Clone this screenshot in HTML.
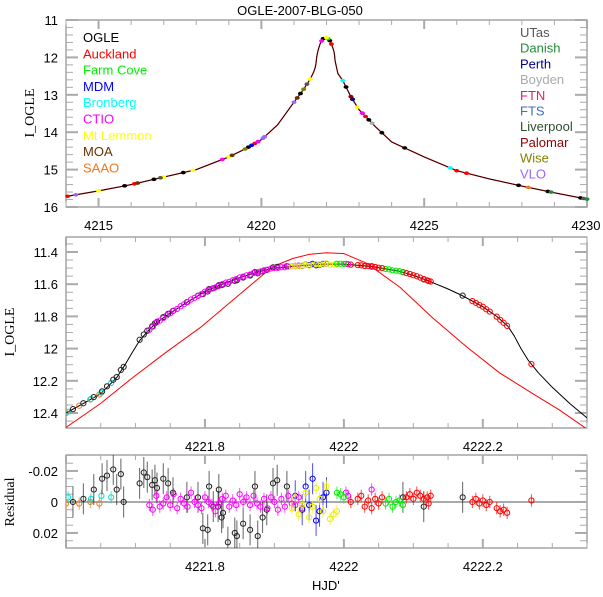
<!DOCTYPE html>
<html><head><meta charset="utf-8"><style>
body{margin:0;background:#fff}
svg text{font-family:"Liberation Sans",sans-serif;font-size:13px;fill:#000}
.ser{font-family:"Liberation Serif",serif;font-size:14px}
</style></head><body>
<svg id="c" width="603" height="592" viewBox="0 0 603 592" xmlns="http://www.w3.org/2000/svg">
<text x="300" y="15" text-anchor="middle">OGLE-2007-BLG-050</text>
<text x="312" y="590">HJD'</text>
<text class="ser" transform="translate(34,113) rotate(-90)" text-anchor="middle">I_OGLE</text>
<text class="ser" transform="translate(14,332) rotate(-90)" text-anchor="middle">I_OGLE</text>
<text class="ser" transform="translate(14,502) rotate(-90)" text-anchor="middle">Residual</text>
<g id="g"></g>
</svg>
<script>
// ---------- data ----------
const legendLeft=["OGLE","Auckland","Farm Cove","MDM","Bronberg","CTIO","Mt Lemmon","MOA","SAAO"];
const legendRight=["UTas","Danish","Perth","Boyden","FTN","FTS","Liverpool","Palomar","Wise","VLO"];
const colorsLeft=["#000","#ff0000","#00ee00","#0000ff","#00ffff","#ff00ff","#ffff00","#663300","#ee7722"];
const colorsRight=["#555","#228b3a","#00008b","#aaaaaa","#e0206a","#3b6fc4","#2f4f2f","#8b0000","#808000","#9966ff"];
// top panel model (binary)
const topModelT=[4214,4215,4216,4217,4218,4219,4219.5,4220,4220.5,4221,4221.3,4221.5,4221.6,4221.65,4221.673,4221.696,4221.716,4221.75,4221.803,4221.85,4221.898,4221.937,4222.0,4222.04,4222.08,4222.125,4222.17,4222.2,4222.236,4222.25,4222.265,4222.3,4222.35,4222.5,4222.75,4223,4223.5,4224,4225,4226,4227,4228,4229,4230];
const topModelM=[15.72,15.57,15.4,15.2,15.0,14.66,14.45,14.2,13.8,13.2,12.85,12.58,12.4,12.28,12.18,12.02,11.9,11.78,11.64,11.56,11.5,11.48,11.47,11.49,11.525,11.585,11.69,11.76,11.87,11.95,12.09,12.24,12.43,12.62,13.05,13.4,13.85,14.26,14.66,15.03,15.25,15.44,15.62,15.79];
// middle panel: binary model (black) and single-lens model (red)
const midModelT=[4221.6,4221.625,4221.65,4221.673,4221.685,4221.696,4221.706,4221.716,4221.73,4221.75,4221.775,4221.803,4221.825,4221.85,4221.875,4221.898,4221.937,4221.97,4222.0,4222.04,4222.08,4222.1,4222.125,4222.15,4222.17,4222.2,4222.22,4222.236,4222.245,4222.255,4222.265,4222.28,4222.3,4222.325,4222.35];
const midModelM=[12.4,12.34,12.28,12.18,12.1,12.02,11.95,11.9,11.84,11.78,11.71,11.64,11.6,11.56,11.525,11.5,11.485,11.475,11.475,11.49,11.52,11.545,11.585,11.63,11.67,11.74,11.8,11.86,11.92,12.0,12.07,12.15,12.24,12.34,12.43];
const redModelT=[4221.6,4221.65,4221.696,4221.745,4221.793,4221.84,4221.87,4221.898,4221.927,4221.95,4221.975,4222.0,4222.033,4222.081,4222.128,4222.177,4222.224,4222.272,4222.31,4222.35];
const redModelM=[12.49,12.34,12.18,12.02,11.87,11.7,11.59,11.49,11.44,11.415,11.405,11.41,11.47,11.62,11.81,11.99,12.15,12.28,12.38,12.5];
// residual data per telescope (time, residual)
const ogleT=[4221.61,4221.625,4221.64,4221.652,4221.659,4221.668,4221.673,4221.679,4221.683,4221.706,4221.712,4221.717,4221.724,4221.728,4221.731,4221.74,4221.747,4221.754,4221.774,4221.79,4221.797,4221.804,4221.806,4221.812,4221.819,4221.82,4221.824,4221.826,4221.833,4221.843,4221.846,4221.855,4221.865,4221.872,4221.876,4221.883,4221.889,4221.898,4221.904,4221.918,4222.085,4222.115,4222.171];
const ogleR=[0,-0.002,-0.008,-0.015,-0.017,-0.021,-0.008,-0.018,0,-0.012,-0.019,-0.016,-0.011,-0.014,-0.009,-0.015,-0.012,-0.006,-0.003,-0.003,0.017,0.018,-0.01,0.003,0.003,-0.008,0.01,0.007,0.026,0.02,0.022,0.014,0.018,-0.01,0.022,0.01,0.005,-0.012,-0.014,-0.01,-0.003,0.003,-0.003];
const ctioT=[4221.72,4221.725,4221.73,4221.735,4221.74,4221.745,4221.75,4221.755,4221.76,4221.765,4221.77,4221.775,4221.78,4221.785,4221.79,4221.795,4221.8,4221.805,4221.81,4221.815,4221.82,4221.825,4221.83,4221.835,4221.84,4221.845,4221.85,4221.855,4221.86,4221.865,4221.87,4221.875,4221.88,4221.885,4221.89,4221.895,4221.9,4221.905,4221.91,4221.915,4221.92,4221.925,4221.93,4221.935,4221.94,4222.003,4222.006,4222.04];
const ctioR=[0.002,0.005,-0.004,0.003,0.001,-0.003,0.002,-0.005,0.004,-0.002,0.001,0.003,-0.006,0.0,0.002,0.004,-0.003,0.0,0.002,0.006,0.001,-0.002,-0.004,0.003,-0.001,0.002,-0.005,0.0,-0.003,0.002,-0.004,0.001,0.003,-0.002,0.004,-0.003,0.0,0.005,-0.002,0.003,-0.004,0.001,0.002,-0.003,0.004,-0.006,-0.004,-0.008];
const lemmonT=[4221.925,4221.93,4221.935,4221.94,4221.945,4221.95,4221.955,4221.96,4221.965,4221.97,4221.975,4221.98,4221.985,4221.99];
const lemmonR=[0.004,-0.003,0.008,0.002,-0.006,0.01,0.003,-0.009,-0.002,0.006,-0.01,0.011,0.008,0.006];
const mdmT=[4221.93,4221.94,4221.945,4221.95,4221.955,4221.96,4221.965,4221.97,4221.975];
const mdmR=[-0.004,0.005,-0.01,0.002,-0.015,0.012,0.006,-0.003,-0.006];
const farmT=[4221.99,4221.995,4222.0,4222.06,4222.065,4222.07,4222.075,4222.08,4222.085];
const farmR=[-0.006,-0.005,-0.003,0.001,-0.002,0.003,0.0,-0.001,0.002];
const auckT=[4222.01,4222.02,4222.025,4222.03,4222.035,4222.04,4222.045,4222.05,4222.055,4222.09,4222.095,4222.1,4222.105,4222.11,4222.115,4222.12,4222.122,4222.125,4222.185,4222.19,4222.195,4222.2,4222.205,4222.21,4222.22,4222.225,4222.23,4222.235,4222.27];
const auckR=[0.0,-0.002,-0.004,0.003,-0.001,0.004,-0.002,0.001,-0.003,-0.003,-0.005,-0.002,-0.006,-0.004,-0.002,-0.003,0.001,-0.004,0.0,-0.002,0.001,-0.001,0.002,0.0,0.004,0.006,0.005,0.007,-0.001];
const bronT=[4221.603,4221.636,4221.651,4221.665];
const bronR=[-0.003,-0.002,-0.004,-0.003];
const saaoT=[4221.6,4221.619,4221.635,4221.648];
const saaoR=[0.001,0.001,0.0,0.001];
// top panel observation times per telescope (dots on curve)
const topObs={
 OGLE:[4215.8,4216.7,4217.6,4219.6,4221.2,4221.9,4222.1,4222.6,4223.3,4223.7,4224.4,4227.9,4228.8,4229.8],
 Auckland:[4214.05,4216.1,4219.8,4222.15,4223.2,4226.0,4226.3],
 "Farm Cove":[4222.05],
 MDM:[4219.7,4223.1],
 Bronberg:[4222.5,4225.8],
 CTIO:[4218.8,4219.9,4221.85,4223.1],
 "Mt Lemmon":[4215.0,4217.0,4217.9,4219.0,4221.5,4222.0,4222.95],
 MOA:[4216.2,4219.1,4221.1,4222.8],
 SAAO:[4228.2],
 UTas:[4216.9,4221.4,4229.9],
 Danish:[4228.9,4230],
 Perth:[4222.8],
 Boyden:[4223.4],
 Palomar:[4222.75],
 Wise:[4219.5,4221.3],
 VLO:[4214.3,4220.05,4220.1,4221.0]
};
// ---------- drawing ----------
const G=document.getElementById('g');const NS="http://www.w3.org/2000/svg";
function mk(tag,at,parent){const e=document.createElementNS(NS,tag);for(const k in at)e.setAttribute(k,at[k]);(parent||G).appendChild(e);return e;}
function interp(T,M,t){for(let i=0;i<T.length-1;i++){if(t<=T[i+1]){const f=(t-T[i])/(T[i+1]-T[i]);return M[i]+f*(M[i+1]-M[i]);}}return M[M.length-1];}
const L=66,R=587;
const P1={x0:4214,x1:4230,y0:11,y1:16,top:20,bot:207};
const P2={x0:4221.6,x1:4222.35,y0:11.307,y1:12.493,top:237,bot:428};
const P3={x0:4221.6,x1:4222.35,y0:-0.0303,y1:0.0297,top:455,bot:548};
const sx=(p,t)=>L+(t-p.x0)/(p.x1-p.x0)*(R-L);
const sy=(p,v)=>p.top+(v-p.y0)/(p.y1-p.y0)*(p.bot-p.top);
function frame(p,name,xMaj,xMin,yMaj,yMin,yLab,xLab,xfmt){
 const g=mk('g',{});
 mk('rect',{x:L,y:p.top,width:R-L,height:p.bot-p.top,fill:'none',stroke:'#777','stroke-width':1},g);
 for(let t=Math.ceil(p.x0/xMin-1e-6)*xMin;t<=p.x1+1e-9;t+=xMin){const x=sx(p,t);const maj=Math.abs(t/xMaj-Math.round(t/xMaj))<1e-6;const l=maj?9:5;
  mk('line',{x1:x,x2:x,y1:p.bot,y2:p.bot-l,stroke:'#aaa','stroke-width':maj?2:1},g);mk('line',{x1:x,x2:x,y1:p.top,y2:p.top+l,stroke:'#aaa','stroke-width':maj?2:1},g);}
 for(let v=Math.ceil(p.y0/yMin-1e-6)*yMin;v<=p.y1+1e-9;v+=yMin){const y=sy(p,v);const maj=Math.abs(v/yMaj-Math.round(v/yMaj))<1e-6;const l=maj?12:7;
  mk('line',{x1:L,x2:L+l,y1:y,y2:y,stroke:'#aaa','stroke-width':maj?2:1},g);mk('line',{x1:R,x2:R-l,y1:y,y2:y,stroke:'#aaa','stroke-width':maj?2:1},g);}
 yLab.forEach(v=>{const t=mk('text',{x:58,y:sy(p,v)+5,'text-anchor':'end'},g);t.textContent=String(v);});
 xLab.forEach(v=>{const x=Math.min(sx(p,v),586);const t=mk('text',{x:x,y:p.bot+23,'text-anchor':'middle'},g);t.textContent=xfmt(v);});
}
frame(P1,'top-panel',5,1,1,0.2,[11,12,13,14,15,16],[4215,4220,4225,4230],v=>String(v));
frame(P2,'middle-panel',0.2,0.05,0.2,0.05,[11.4,11.6,11.8,12,12.2,12.4],[4221.8,4222,4222.2],v=>String(+v.toFixed(1)));
frame(P3,'residual-panel',0.2,0.05,0.02,0.005,[-0.02,0,0.02],[4221.8,4222,4222.2],v=>String(+v.toFixed(1)));
function poly(p,T,M,col,w,name,clip){let d='';T.forEach((t,i)=>{d+=(i?'L':'M')+sx(p,t).toFixed(1)+','+sy(p,M[i]).toFixed(1);});const at={d:d,fill:'none',stroke:col,'stroke-width':w,'stroke-linejoin':'round'};if(clip)at['clip-path']=clip;const e=mk('path',at);}
const clipM=mk('clipPath',{id:'cm'});mk('rect',{x:L,y:P2.top,width:R-L,height:P2.bot-P2.top},clipM);
const clipR=mk('clipPath',{id:'cr'});mk('rect',{x:L,y:P3.top,width:R-L,height:P3.bot-P3.top},clipR);
// top panel
poly(P1,topModelT,topModelM,'#ff0000',1.2,'top-single-model');
poly(P1,topModelT,topModelM,'#330000',1,'top-binary-model');
const allNames=legendLeft.concat(legendRight),allCols=colorsLeft.concat(colorsRight);
for(const k in topObs){const c=allCols[allNames.indexOf(k)];topObs[k].forEach(t=>{const e=mk('ellipse',{cx:sx(P1,t),cy:sy(P1,interp(topModelT,topModelM,t)),rx:2.5,ry:1.8,fill:c});});}
legendLeft.forEach((n,i)=>{const t=mk('text',{x:83,y:42+i*16.3,style:'fill:'+colorsLeft[i]});t.textContent=n;});
legendRight.forEach((n,i)=>{const t=mk('text',{x:520,y:37+i*15.7,style:'fill:'+colorsRight[i]});t.textContent=n;});
// middle panel
poly(P2,redModelT,redModelM,'#ff0000',1,'single-lens-model','url(#cm)');
poly(P2,midModelT,midModelM,'#000',1,'binary-model','url(#cm)');
mk('line',{x1:L,x2:R,y1:sy(P3,0),y2:sy(P3,0),stroke:'#aaa','stroke-width':2});
const sets=[[saaoT,saaoR,'#ee7722','saao'],[bronT,bronR,'#00dddd','bronberg'],[ogleT,ogleR,'#222','ogle'],[ctioT,ctioR,'#ff00ff','ctio'],[mdmT,mdmR,'#0000ff','mdm'],[lemmonT,lemmonR,'#eeee00','mt-lemmon'],[farmT,farmR,'#00ee00','farm-cove'],[auckT,auckR,'#ff0000','auckland']];
sets.forEach(([T,Rr,c,n])=>{const err=n==='ogle'||n==='mdm'?0.01:0.004;T.forEach((t,i)=>{
 const x=sx(P2,t),m=interp(midModelT,midModelM,t)+Rr[i]*0.4;
 const e1=mk('circle',{cx:x,cy:sy(P2,m),r:2.6,fill:'none',stroke:c,'stroke-width':1,'clip-path':'url(#cm)'});
 const y=sy(P3,Rr[i]);
 const b=mk('line',{x1:x,x2:x,y1:sy(P3,Rr[i]-err),y2:sy(P3,Rr[i]+err),stroke:c,'stroke-width':1,opacity:0.7,'clip-path':'url(#cr)'});
 const e2=mk('circle',{cx:x,cy:y,r:2.6,fill:'none',stroke:c,'stroke-width':1,'clip-path':'url(#cr)'});
});});
</script>
</body></html>
